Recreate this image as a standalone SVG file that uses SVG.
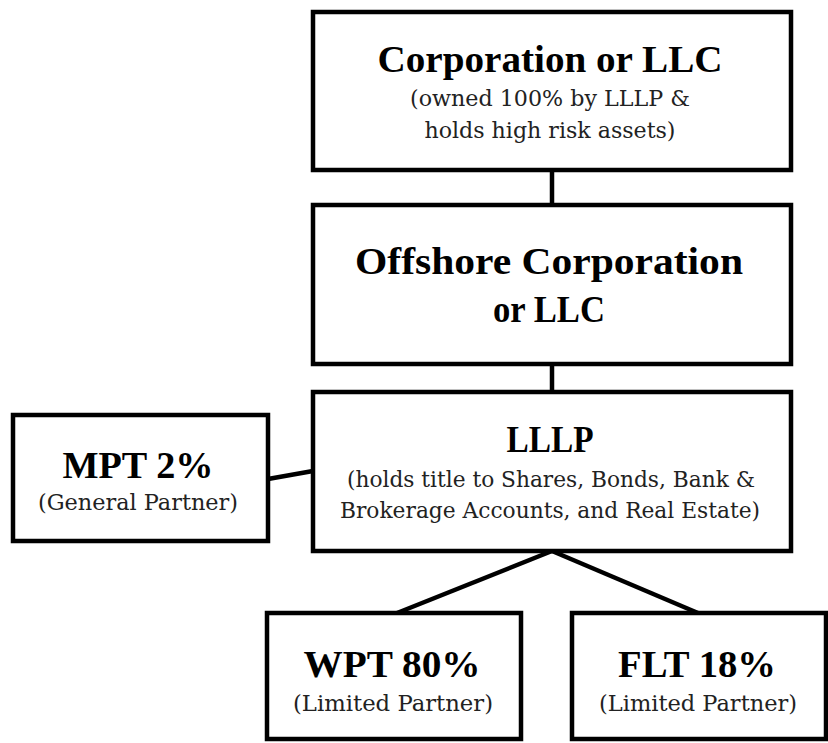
<svg xmlns="http://www.w3.org/2000/svg" width="828" height="743" viewBox="0 0 828 743">
  <style>
    .box { fill: #ffffff; stroke: #000000; stroke-width: 4.5; stroke-linejoin: miter; }
    .link { stroke: #000000; stroke-width: 4.5; fill: none; stroke-linecap: butt; }
    .title { font-family: "Liberation Serif", "DejaVu Serif", serif; font-weight: bold; font-size: 38px; fill: #000000; text-anchor: middle; }
    .sub { font-family: "DejaVu Serif", "Liberation Serif", serif; font-size: 22px; fill: #222222; text-anchor: middle; }
  </style>
  <rect width="828" height="743" fill="#ffffff"/>

  <!-- connectors -->
  <g id="connectors">
    <line class="link" x1="552" y1="170" x2="552" y2="205"/>
    <line class="link" x1="552" y1="364" x2="552" y2="392"/>
    <line class="link" x1="268" y1="479" x2="313" y2="471"/>
    <line class="link" x1="552" y1="551" x2="397" y2="613"/>
    <line class="link" x1="552" y1="551" x2="698" y2="613"/>
  </g>

  <g id="corp-llc">
    <rect class="box" x="313" y="12" width="478" height="158"/>
    <text class="title" x="550" y="72" textLength="345" lengthAdjust="spacingAndGlyphs">Corporation or LLC</text>
    <text class="sub" x="550" y="106" textLength="280" lengthAdjust="spacingAndGlyphs">(owned 100% by LLLP &amp;</text>
    <text class="sub" x="550" y="138" textLength="251" lengthAdjust="spacingAndGlyphs">holds high risk assets)</text>
  </g>

  <g id="offshore">
    <rect class="box" x="313" y="205" width="478" height="159"/>
    <text class="title" x="549" y="274" textLength="388" lengthAdjust="spacingAndGlyphs">Offshore Corporation</text>
    <text class="title" x="549" y="322" textLength="112" lengthAdjust="spacingAndGlyphs">or LLC</text>
  </g>

  <g id="lllp">
    <rect class="box" x="313" y="392" width="478" height="159"/>
    <text class="title" x="550" y="452" textLength="87" lengthAdjust="spacingAndGlyphs">LLLP</text>
    <text class="sub" x="551" y="487" textLength="408" lengthAdjust="spacingAndGlyphs">(holds title to Shares, Bonds, Bank &amp;</text>
    <text class="sub" x="550" y="518" textLength="420" lengthAdjust="spacingAndGlyphs">Brokerage Accounts, and Real Estate)</text>
  </g>

  <g id="mpt">
    <rect class="box" x="13" y="415" width="255" height="126"/>
    <text class="title" x="138" y="478" textLength="151" lengthAdjust="spacingAndGlyphs">MPT 2%</text>
    <text class="sub" x="138" y="510" textLength="200" lengthAdjust="spacingAndGlyphs">(General Partner)</text>
  </g>

  <g id="wpt">
    <rect class="box" x="267" y="613" width="254" height="126"/>
    <text class="title" x="392" y="677" textLength="177" lengthAdjust="spacingAndGlyphs">WPT 80%</text>
    <text class="sub" x="393" y="711" textLength="200" lengthAdjust="spacingAndGlyphs">(Limited Partner)</text>
  </g>

  <g id="flt">
    <rect class="box" x="572" y="613" width="254" height="126"/>
    <text class="title" x="697" y="677" textLength="158" lengthAdjust="spacingAndGlyphs">FLT 18%</text>
    <text class="sub" x="698" y="711" textLength="198" lengthAdjust="spacingAndGlyphs">(Limited Partner)</text>
  </g>
</svg>
